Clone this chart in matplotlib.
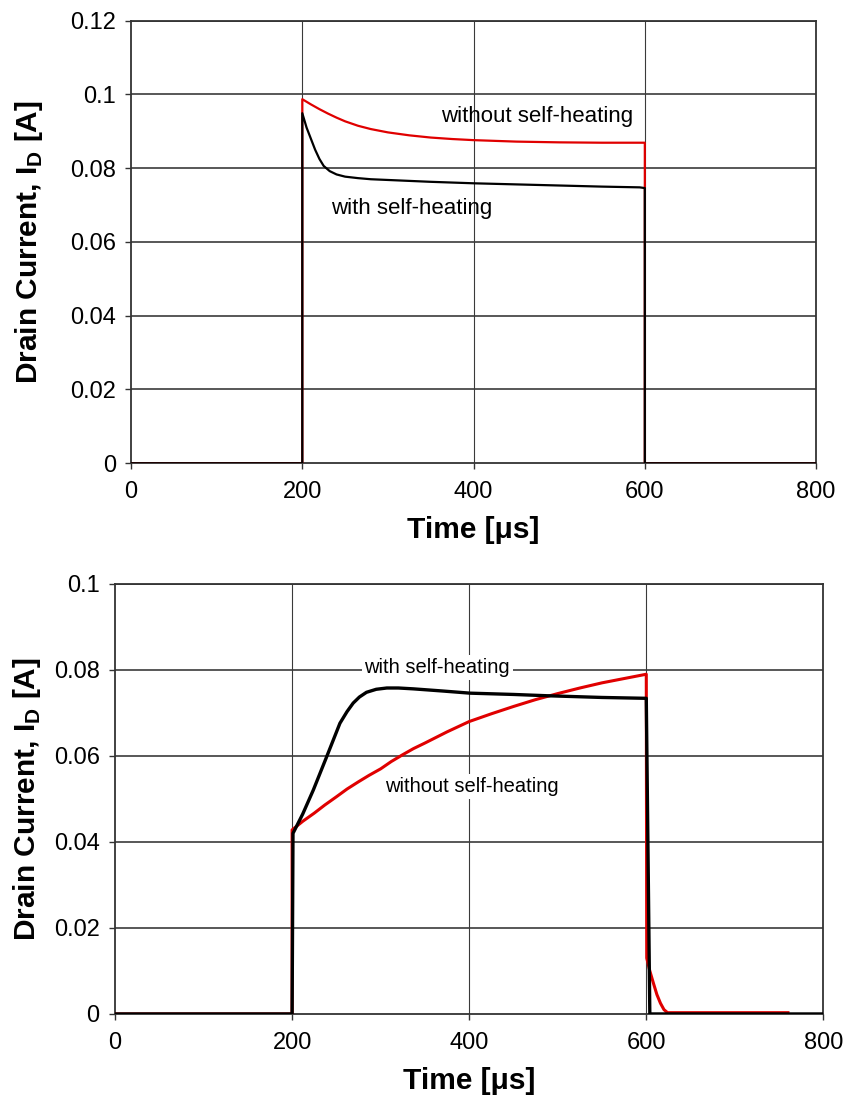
import numpy as np
import matplotlib
matplotlib.use("Agg")
import matplotlib.pyplot as plt

plt.rcParams['font.family'] = ['Liberation Sans', 'DejaVu Sans']
plt.rcParams['mathtext.fontset'] = 'custom'
plt.rcParams['mathtext.bf'] = 'Liberation Sans:bold'
plt.rcParams['mathtext.rm'] = 'Liberation Sans'

# upper panel: drain current response (time in us, current in A)
t_top_with = [0, 200, 200, 205, 210, 215, 220, 225, 232, 240, 250, 265, 280, 300, 350, 400,
              450, 500, 550, 594, 600, 600, 800]
i_top_with = [0, 0, 0.0949, 0.0910, 0.0880, 0.0850, 0.0825, 0.0806, 0.0792, 0.0783, 0.0777, 0.0773,
              0.0770, 0.0768, 0.0763, 0.0759, 0.0756, 0.0753, 0.0750, 0.0748, 0.0746, 0, 0]
t_top_without = [0, 200, 200, 210, 220, 230, 240, 250, 265, 280, 300, 325, 350, 375, 400, 450,
                 500, 550, 600, 600, 800]
i_top_without = [0, 0, 0.0987, 0.0973, 0.0960, 0.0948, 0.0937, 0.0927, 0.0915, 0.0906, 0.0897,
                 0.0889, 0.0883, 0.0879, 0.0876, 0.0872, 0.0870, 0.0869, 0.0869, 0, 0]

# lower panel
t_bot_with = [0, 200, 201, 212, 224, 239, 254, 262, 269, 276, 284, 295, 307, 320, 337, 370,
              401, 450, 488, 550, 600, 604, 800]
i_bot_with = [0, 0, 0.0420, 0.0465, 0.0521, 0.0598, 0.0676, 0.0703, 0.0723, 0.0737, 0.0748,
              0.0755, 0.0758, 0.0758, 0.0756, 0.0751, 0.0746, 0.0743, 0.0740, 0.0736, 0.0734, 0, 0]
t_bot_without = [0, 200, 200, 212, 225, 237, 250, 262, 275, 287, 300, 312, 325, 337, 350, 375,
                 400, 425, 450, 475, 500, 525, 550, 575, 600, 600.5, 604, 608, 612, 616, 620, 624, 760]
i_bot_without = [0, 0, 0.0428, 0.0448, 0.0467, 0.0486, 0.0505, 0.0523, 0.0540, 0.0555, 0.0570,
                 0.0587, 0.0603, 0.0617, 0.0630, 0.0656, 0.0680, 0.0698, 0.0715, 0.0731, 0.0745,
                 0.0758, 0.0770, 0.0780, 0.0790, 0.0130, 0.0100, 0.0072, 0.0045, 0.0025, 0.0010,
                 0.0003, 0.0003]

x_ticks = [0, 200, 400, 600, 800]
top_yticks = [0, 0.02, 0.04, 0.06, 0.08, 0.1, 0.12]
top_ylabels = ['0', '0.02', '0.04', '0.06', '0.08', '0.1', '0.12']
bot_yticks = [0, 0.02, 0.04, 0.06, 0.08, 0.1]
bot_ylabels = ['0', '0.02', '0.04', '0.06', '0.08', '0.1']

fig = plt.figure(figsize=(8.47, 10.97), dpi=100)
ax1 = fig.add_axes([0.1547, 0.5777, 0.8088, 0.4035])
ax2 = fig.add_axes([0.1358, 0.0757, 0.8363, 0.392])


def style_axes(ax, yticks, ylabels, ymax, label_x):
    ax.set_xlim(0, 800)
    ax.set_ylim(0, ymax)
    ax.set_xticks(x_ticks)
    ax.set_yticks(yticks)
    ax.set_yticklabels(ylabels)
    for y in yticks[1:]:
        ax.axhline(y, color='#4a4a4a', lw=1.3, zorder=1)
    for x in x_ticks[1:-1]:
        ax.axvline(x, color='#3a3a3a', lw=0.8, zorder=1)
    for s in ax.spines.values():
        s.set_color('#333333')
        s.set_linewidth(1.3)
    ax.tick_params(direction='out', length=4, width=1, labelsize=17, pad=7, color='#333333')
    ax.tick_params(axis='x', pad=9)
    ax.set_xlabel('Time [μs]', fontsize=21.5, fontweight='bold', labelpad=9)
    ax.set_ylabel(r'Drain Current, I$_\mathbf{D}$ [A]', fontsize=21.5, fontweight='bold',
                  va='center')
    ax.yaxis.set_label_coords(label_x, 0.5)


style_axes(ax1, top_yticks, top_ylabels, 0.12, -0.149)
ax1.plot(t_top_without, i_top_without, color='#e00000', lw=1.6, zorder=3)
ax1.plot(t_top_with, i_top_with, color='black', lw=1.6, zorder=4)
ax1.text(474, 0.0939, 'without self-heating', fontsize=16, ha='center', va='center', zorder=5)
ax1.text(328, 0.0692, 'with self-heating', fontsize=16, ha='center', va='center', zorder=5)

style_axes(ax2, bot_yticks, bot_ylabels, 0.1, -0.124)
ax2.plot(t_bot_without, i_bot_without, color='#e00000', lw=2.2, zorder=3)
ax2.plot(t_bot_with, i_bot_with, color='black', lw=2.4, zorder=4)
ax2.text(364, 0.0805, 'with self-heating', fontsize=14.5, ha='center', va='center', zorder=5,
         bbox=dict(facecolor='white', edgecolor='none', pad=2))
ax2.text(403, 0.0529, 'without self-heating', fontsize=14.5, ha='center', va='center', zorder=5,
         bbox=dict(facecolor='white', edgecolor='none', pad=2))

fig.savefig('out.png', dpi=100)
